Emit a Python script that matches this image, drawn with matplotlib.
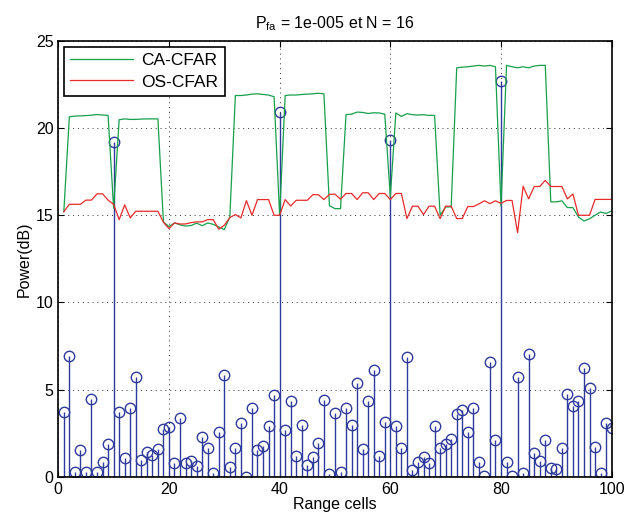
import numpy as np
import matplotlib
matplotlib.use("Agg")
import matplotlib.pyplot as plt

plt.rcParams['font.family'] = ['Liberation Sans', 'DejaVu Sans']
plt.rcParams['font.size'] = 11

# range cells 1..100
cells = list(range(1, 101))

# received power in each range cell (dB)
signal = [3.73, 6.92, 0.29, 1.54, 0.25, 4.48, 0.29, 0.87, 1.88, 19.2,
          3.71, 1.06, 3.92, 5.73, 0.98, 1.44, 1.27, 1.58, 2.73, 2.85,
          0.77, 3.35, 0.77, 0.9, 0.62, 2.25, 1.62, 0.19, 2.56, 5.83,
          0.58, 1.63, 3.08, 0.0, 3.94, 1.52, 1.75, 2.88, 4.71, 20.9,
          2.69, 4.33, 1.19, 2.98, 0.67, 1.15, 1.92, 4.38, 0.15, 3.65,
          0.29, 3.96, 2.96, 5.38, 1.6, 4.35, 6.13, 1.21, 3.15, 19.3,
          2.9, 1.65, 6.87, 0.37, 0.85, 1.13, 0.81, 2.9, 1.67, 1.88,
          2.15, 3.6, 3.81, 2.54, 3.94, 0.83, 0.06, 6.58, 2.08, 22.7,
          0.83, 0.06, 5.71, 0.23, 7.04, 1.38, 0.92, 2.12, 0.52, 0.42,
          1.65, 4.75, 4.04, 4.37, 6.23, 5.1, 1.69, 0.23, 3.08, 2.77]

# CA-CFAR threshold (dB)
ca_cfar = [15.2, 20.65, 20.69, 20.7, 20.72, 20.74, 20.78, 20.75, 20.73, 15.4,
           20.48, 20.53, 20.5, 20.5, 20.52, 20.53, 20.53, 20.53, 14.62, 14.35,
           14.56, 14.45, 14.38, 14.41, 14.55, 14.4, 14.56, 14.48, 14.33, 14.18,
           14.9, 21.87, 21.87, 21.9, 21.95, 21.97, 21.93, 21.9, 21.8, 15.0,
           21.87, 21.9, 21.9, 21.93, 21.95, 21.97, 22.0, 21.97, 15.55, 15.38,
           15.38, 20.78, 20.8, 20.92, 20.9, 20.84, 20.88, 20.87, 20.8, 16.06,
           20.87, 20.67, 20.83, 20.77, 20.75, 20.77, 20.73, 20.73, 15.0, 15.48,
           15.48, 23.46, 23.5, 23.52, 23.56, 23.6, 23.56, 23.6, 23.52, 15.52,
           23.6, 23.52, 23.46, 23.52, 23.46, 23.56, 23.6, 23.6, 15.77, 15.77,
           15.83, 15.44, 15.44, 14.9, 14.67, 14.8, 15.0, 15.19, 15.1, 15.25]

# OS-CFAR threshold (dB)
os_cfar = [15.2, 15.63, 15.63, 15.63, 15.87, 15.87, 16.23, 16.23, 15.87, 15.63,
           14.75, 15.6, 14.85, 15.23, 15.23, 15.23, 15.23, 15.23, 14.6, 14.23,
           14.56, 14.5, 14.5, 14.58, 14.62, 14.62, 14.75, 14.75, 14.2, 14.43,
           14.87, 15.04, 14.85, 15.84, 15.0, 15.9, 15.9, 15.9, 15.0, 15.0,
           15.9, 15.53, 15.86, 15.86, 15.86, 16.18, 16.18, 15.9, 16.2, 16.21,
           15.92, 16.25, 16.25, 15.9, 16.29, 16.29, 15.9, 16.25, 16.25, 15.9,
           16.25, 16.25, 14.81, 15.52, 15.52, 15.04, 15.52, 15.52, 14.81, 15.52,
           15.52, 14.81, 14.81, 15.5, 15.5, 15.65, 15.83, 15.67, 15.83, 15.68,
           15.85, 15.85, 14.0, 16.66, 15.94, 16.65, 16.65, 17.0, 16.65, 16.65,
           16.65, 15.94, 16.22, 15.0, 15.0, 15.0, 15.91, 15.91, 15.91, 15.91]

stem_color = '#2f3b9c'
ca_color = '#17a04a'
os_color = '#e82a2a'

fig = plt.figure(figsize=(6.26, 5.22), dpi=100)
ax = fig.add_axes([0.0931, 0.0868, 0.884, 0.8347])

markerline, stemlines, baseline = ax.stem(cells, signal, linefmt='-', markerfmt='o', basefmt='k-')
plt.setp(stemlines, color=stem_color, linewidth=1.0)
plt.setp(markerline, color=stem_color, markerfacecolor='none', markersize=7.5, markeredgewidth=1.0)
plt.setp(baseline, linewidth=1.0)

ax.plot(cells, ca_cfar, color=ca_color, linewidth=0.9, label='CA-CFAR')
ax.plot(cells, os_cfar, color=os_color, linewidth=0.9, label='OS-CFAR')

ax.set_xlim(0, 100)
ax.set_ylim(0, 25)
ax.set_xticks([0, 20, 40, 60, 80, 100])
ax.set_yticks([0, 5, 10, 15, 20, 25])
ax.grid(True, linestyle=(0, (1, 4)), color='#333333', linewidth=0.7)
ax.tick_params(direction='in', top=True, right=True, length=4, width=0.8, labelsize=11.5)
for sp in ax.spines.values():
    sp.set_linewidth(1.2)

ax.set_xlabel('Range cells', labelpad=0, fontsize=11.5)
ax.set_ylabel('Power(dB)', labelpad=3, fontsize=11.5)
ax.set_title('P$_{\\mathregular{fa}}$ = 1e-005 et N = 16', fontsize=11.5, pad=9)

leg = ax.legend(loc='upper left', fancybox=False, framealpha=1, edgecolor='black',
                handlelength=3.6, borderaxespad=0.35, fontsize=12.5, borderpad=0.35,
                labelspacing=0.35, handletextpad=0.5)
leg.get_frame().set_linewidth(1.2)

fig.savefig('out.png', dpi=100)
